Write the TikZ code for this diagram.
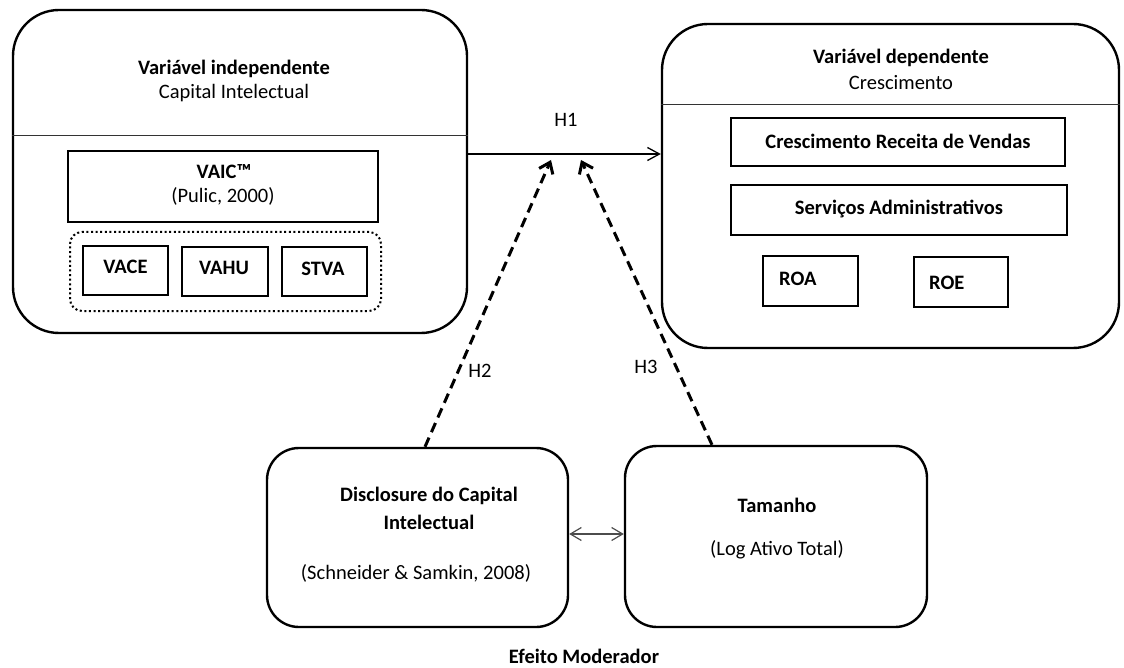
\documentclass[tikz,border=0pt]{standalone}
\usepackage{fontspec}
\setmainfont{Carlito}
\usetikzlibrary{arrows.meta,calc}
\begin{document}
\begin{tikzpicture}[x=1pt,y=-1pt,
  txt/.style={inner sep=0pt, text height=13pt, text depth=0pt, font=\fontsize{20.5}{24}\selectfont},
  btxt/.style={inner sep=0pt, text height=13pt, text depth=0pt, font=\bfseries\fontsize{20.5}{24}\selectfont},
  bigbox/.style={draw, line width=2.4pt, rounded corners=46pt, inner sep=0pt},
  modbox/.style={draw, line width=2.4pt, rounded corners=32pt, inner sep=0pt},
  sqbox/.style={draw, line width=2.4pt, inner sep=0pt, text height=13pt, text depth=0pt, font=\bfseries\fontsize{20.5}{24}\selectfont},
  groupbox/.style={draw, line width=2pt, dash pattern=on 2pt off 2.6pt, rounded corners=12pt, inner sep=0pt},
  divider/.style={line width=1.3pt, draw=black!80},
  mainarrow/.style={line width=1.3pt, -{Straight Barb[length=12pt,width=13pt,line width=1.3pt]}},
  modarrow/.style={line width=3pt, dash pattern=on 10pt off 6pt, -{Straight Barb[length=10pt,width=15pt,line width=3pt]}},
  linkarrow/.style={line width=1.2pt, draw=black!70, {Straight Barb[length=11pt,width=13pt,line width=1.2pt]}-{Straight Barb[length=11pt,width=13pt,line width=1.2pt]}}
]
\useasboundingbox (0,0) rectangle (1124,668);

% big boxes
\node[bigbox, minimum width=454pt, minimum height=323pt] (L) at (240,171.5) {};
\node[bigbox, minimum width=457pt, minimum height=324pt] (R) at (890.5,186) {};
\draw[divider] ([yshift=-127pt]L.north west) -- ([yshift=-127pt]L.north east);
\draw[divider] ([yshift=-82pt]R.north west) -- ([yshift=-82pt]R.north east);

% left box content
\node[btxt] (Ltitle) at (234,68) {Variável independente};
\node[txt] (Lsub) at (234,92) {Capital Intelectual};
\node[sqbox, minimum width=310pt, minimum height=71pt] (VAIC) at (223,186.5) {};
\node[btxt] (VAICt) at (224,172) {VAIC™};
\node[txt] (Pulic) at (223,196) {(Pulic, 2000)};
\node[groupbox, minimum width=311pt, minimum height=79pt] (G) at (225.5,271.5) {};
\node[sqbox, minimum width=85pt, minimum height=49pt] (VACE) at (125.5,270.5) {};
\node[btxt] (VACEt) at (125.5,267) {VACE};
\node[sqbox, minimum width=86pt, minimum height=49pt] (VAHU) at (225,271.5) {};
\node[btxt] (VAHUt) at (224,268) {VAHU};
\node[sqbox, minimum width=85pt, minimum height=49pt] (STVA) at (324.5,271.5) {};
\node[btxt] (STVAt) at (323,269) {STVA};

% right box content
\node[btxt] (Rtitle) at (901,57) {Variável dependente};
\node[txt] (Rsub) at (901,83) {Crescimento};
\node[sqbox, minimum width=334pt, minimum height=48pt] (CRV) at (898,142) {Crescimento Receita de Vendas};
\node[sqbox, minimum width=336pt, minimum height=50pt] (SA) at (899,210) {};
\node[btxt] (SAt) at (899,208) {Serviços Administrativos};
\node[sqbox, minimum width=95pt, minimum height=50pt] (ROA) at (810.5,281) {};
\node[btxt, anchor=west] (ROAt) at (779,279) {ROA};
\node[sqbox, minimum width=94pt, minimum height=50pt] (ROE) at (961,282) {};
\node[btxt, anchor=west] (ROEt) at (929,283) {ROE};

% moderators
\node[modbox, minimum width=301pt, minimum height=179pt] (D) at (417.5,537.5) {};
\node[btxt] (D1) at (429,495) {Disclosure do Capital};
\node[btxt] (D2) at (429,523) {Intelectual};
\node[txt] (D3) at (416,573) {(Schneider \& Samkin, 2008)};
\node[modbox, minimum width=302pt, minimum height=181pt] (T) at (776,536.5) {};
\node[btxt] (T1) at (777,506) {Tamanho};
\node[txt] (T2) at (777,549) {(Log Ativo Total)};
\node[btxt] (EM) at (584,657) {Efeito Moderador};

% labels
\node[txt] (H1) at (566,120) {H1};
\node[txt] (H2) at (480,371) {H2};
\node[txt] (H3) at (646,367) {H3};

% connectors
\coordinate (h2tip) at (551,160);
\coordinate (h3tip) at (581,160);
\draw[mainarrow] ([yshift=17.5pt]L.east) -- ([yshift=17.5pt]L.east -| R.west);
\draw[modarrow] ([xshift=7.5pt]D.north) -- (h2tip);
\draw[modarrow] ([xshift=-64pt]T.north) -- (h3tip);
\draw[linkarrow] ([yshift=3.5pt]D.east) -- ([yshift=3.5pt]D.east -| T.west);
\end{tikzpicture}
\end{document}
